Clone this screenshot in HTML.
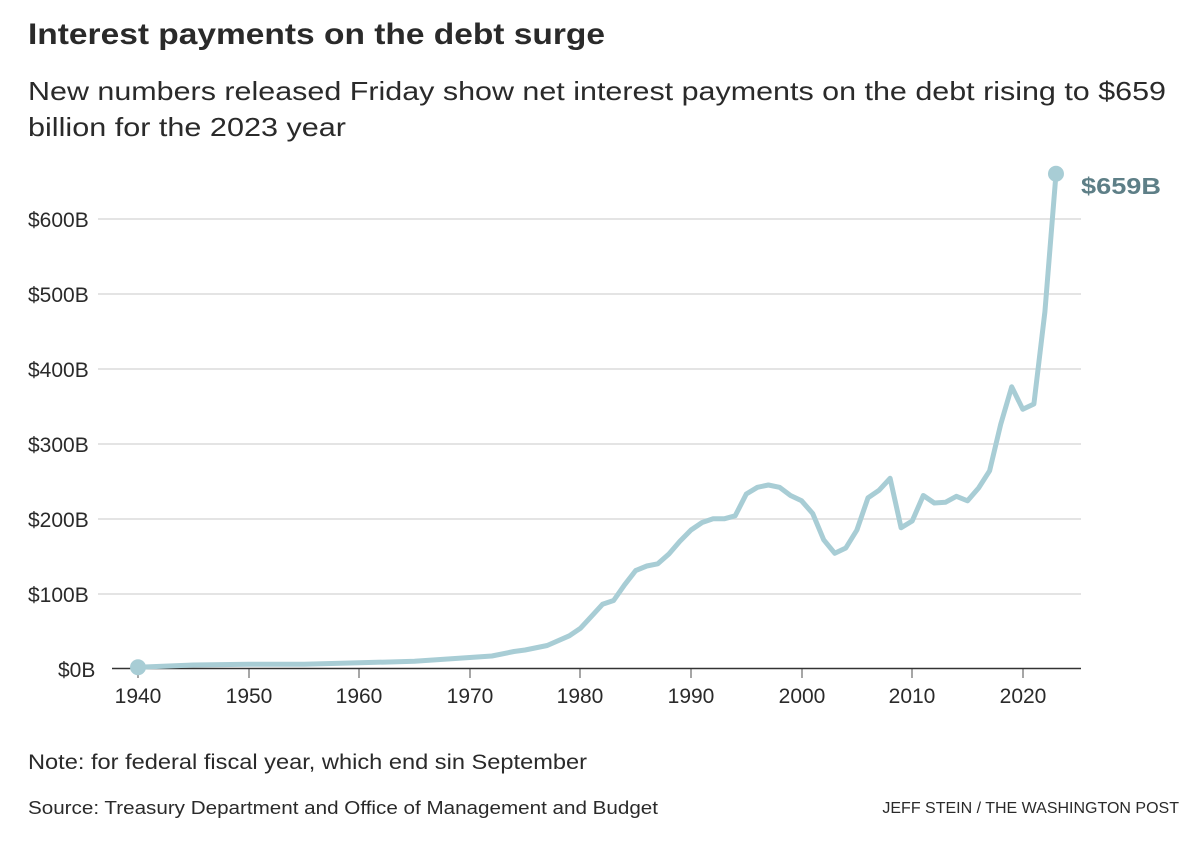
<!DOCTYPE html>
<html><head><meta charset="utf-8"><style>
body{margin:0;width:1188px;height:852px;background:#fff;overflow:hidden;font-family:"Liberation Sans",sans-serif;}
</style></head><body>
<svg width="1188" height="852" xmlns="http://www.w3.org/2000/svg" font-family="Liberation Sans, sans-serif">
<text x="28" y="44" font-size="30" font-weight="bold" fill="#2a2a2a" textLength="577" lengthAdjust="spacingAndGlyphs">Interest payments on the debt surge</text>
<text x="28" y="100" font-size="26" fill="#2a2a2a" textLength="1138" lengthAdjust="spacingAndGlyphs">New numbers released Friday show net interest payments on the debt rising to $659</text>
<text x="28" y="136" font-size="26" fill="#2a2a2a" textLength="318" lengthAdjust="spacingAndGlyphs">billion for the 2023 year</text>
<g stroke="#dcdcdc" stroke-width="1.5">
<line x1="98" x2="1081" y1="219" y2="219"/><line x1="98" x2="1081" y1="294" y2="294"/>
<line x1="98" x2="1081" y1="369" y2="369"/><line x1="98" x2="1081" y1="444" y2="444"/>
<line x1="98" x2="1081" y1="519" y2="519"/><line x1="98" x2="1081" y1="594" y2="594"/>
</g>
<g stroke="#888" stroke-width="1.5">
<line x1="138" x2="138" y1="668" y2="678"/><line x1="249" x2="249" y1="668" y2="678"/><line x1="359" x2="359" y1="668" y2="678"/>
<line x1="470" x2="470" y1="668" y2="678"/><line x1="580" x2="580" y1="668" y2="678"/><line x1="691" x2="691" y1="668" y2="678"/>
<line x1="802" x2="802" y1="668" y2="678"/><line x1="912" x2="912" y1="668" y2="678"/><line x1="1023" x2="1023" y1="668" y2="678"/>
</g>
<line x1="112" x2="1081" y1="668.5" y2="668.5" stroke="#333" stroke-width="1.5"/>
<g font-size="21" fill="#2a2a2a">
<text x="28" y="227">$600B</text><text x="28" y="302">$500B</text><text x="28" y="377">$400B</text>
<text x="28" y="452">$300B</text><text x="28" y="527">$200B</text><text x="28" y="602">$100B</text>
<text x="58" y="677">$0B</text>
</g>
<g font-size="21" fill="#2a2a2a" text-anchor="middle">
<text x="138" y="703">1940</text><text x="249" y="703">1950</text><text x="359" y="703">1960</text>
<text x="470" y="703">1970</text><text x="580" y="703">1980</text><text x="691" y="703">1990</text>
<text x="802" y="703">2000</text><text x="912" y="703">2010</text><text x="1023" y="703">2020</text>
</g>
<polyline id="ln" fill="none" stroke="#a8cdd5" stroke-width="5" stroke-linejoin="round" points=""/>
<circle id="c1" r="8" fill="#a8cdd5"/><circle id="c2" r="8" fill="#a8cdd5"/>
<text x="1081" y="194" font-size="23" font-weight="bold" fill="#5e7f87" textLength="80" lengthAdjust="spacingAndGlyphs">$659B</text>
<text x="28" y="769" font-size="21" fill="#2a2a2a" textLength="559" lengthAdjust="spacingAndGlyphs">Note: for federal fiscal year, which end sin September</text>
<text x="28" y="814" font-size="18" fill="#2a2a2a" textLength="630" lengthAdjust="spacingAndGlyphs">Source: Treasury Department and Office of Management and Budget</text>
<text x="1179" y="813" font-size="16" fill="#2a2a2a" text-anchor="end">JEFF STEIN / THE WASHINGTON POST</text>
</svg>
<script>
var d=[[1940,1],[1945,4],[1950,5],[1955,5],[1960,7],[1965,9],[1970,14],[1972,16],[1974,22],[1975,24],[1977,30],[1979,43],[1980,53],[1981,69],[1982,85],[1983,90],[1984,111],[1985,130],[1986,136],[1987,139],[1988,152],[1989,169],[1990,184],[1991,194],[1992,199],[1993,199],[1994,203],[1995,232],[1996,241],[1997,244],[1998,241],[1999,230],[2000,223],[2001,206],[2002,171],[2003,153],[2004,160],[2005,184],[2006,227],[2007,237],[2008,253],[2009,187],[2010,196],[2011,230],[2012,220],[2013,221],[2014,229],[2015,223],[2016,240],[2017,263],[2018,325],[2019,375],[2020,345],[2021,352],[2022,475],[2023,659]];
function X(y){return 138+(y-1940)*11.06}function Y(v){return 668-v*0.75}
document.getElementById('ln').setAttribute('points',d.map(function(p){return X(p[0]).toFixed(1)+','+Y(p[1]).toFixed(1)}).join(' '));
var a=document.getElementById('c1');a.setAttribute('cx',X(1940));a.setAttribute('cy',Y(1));
var b=document.getElementById('c2');b.setAttribute('cx',X(2023));b.setAttribute('cy',Y(659));
</script>
</body></html>
